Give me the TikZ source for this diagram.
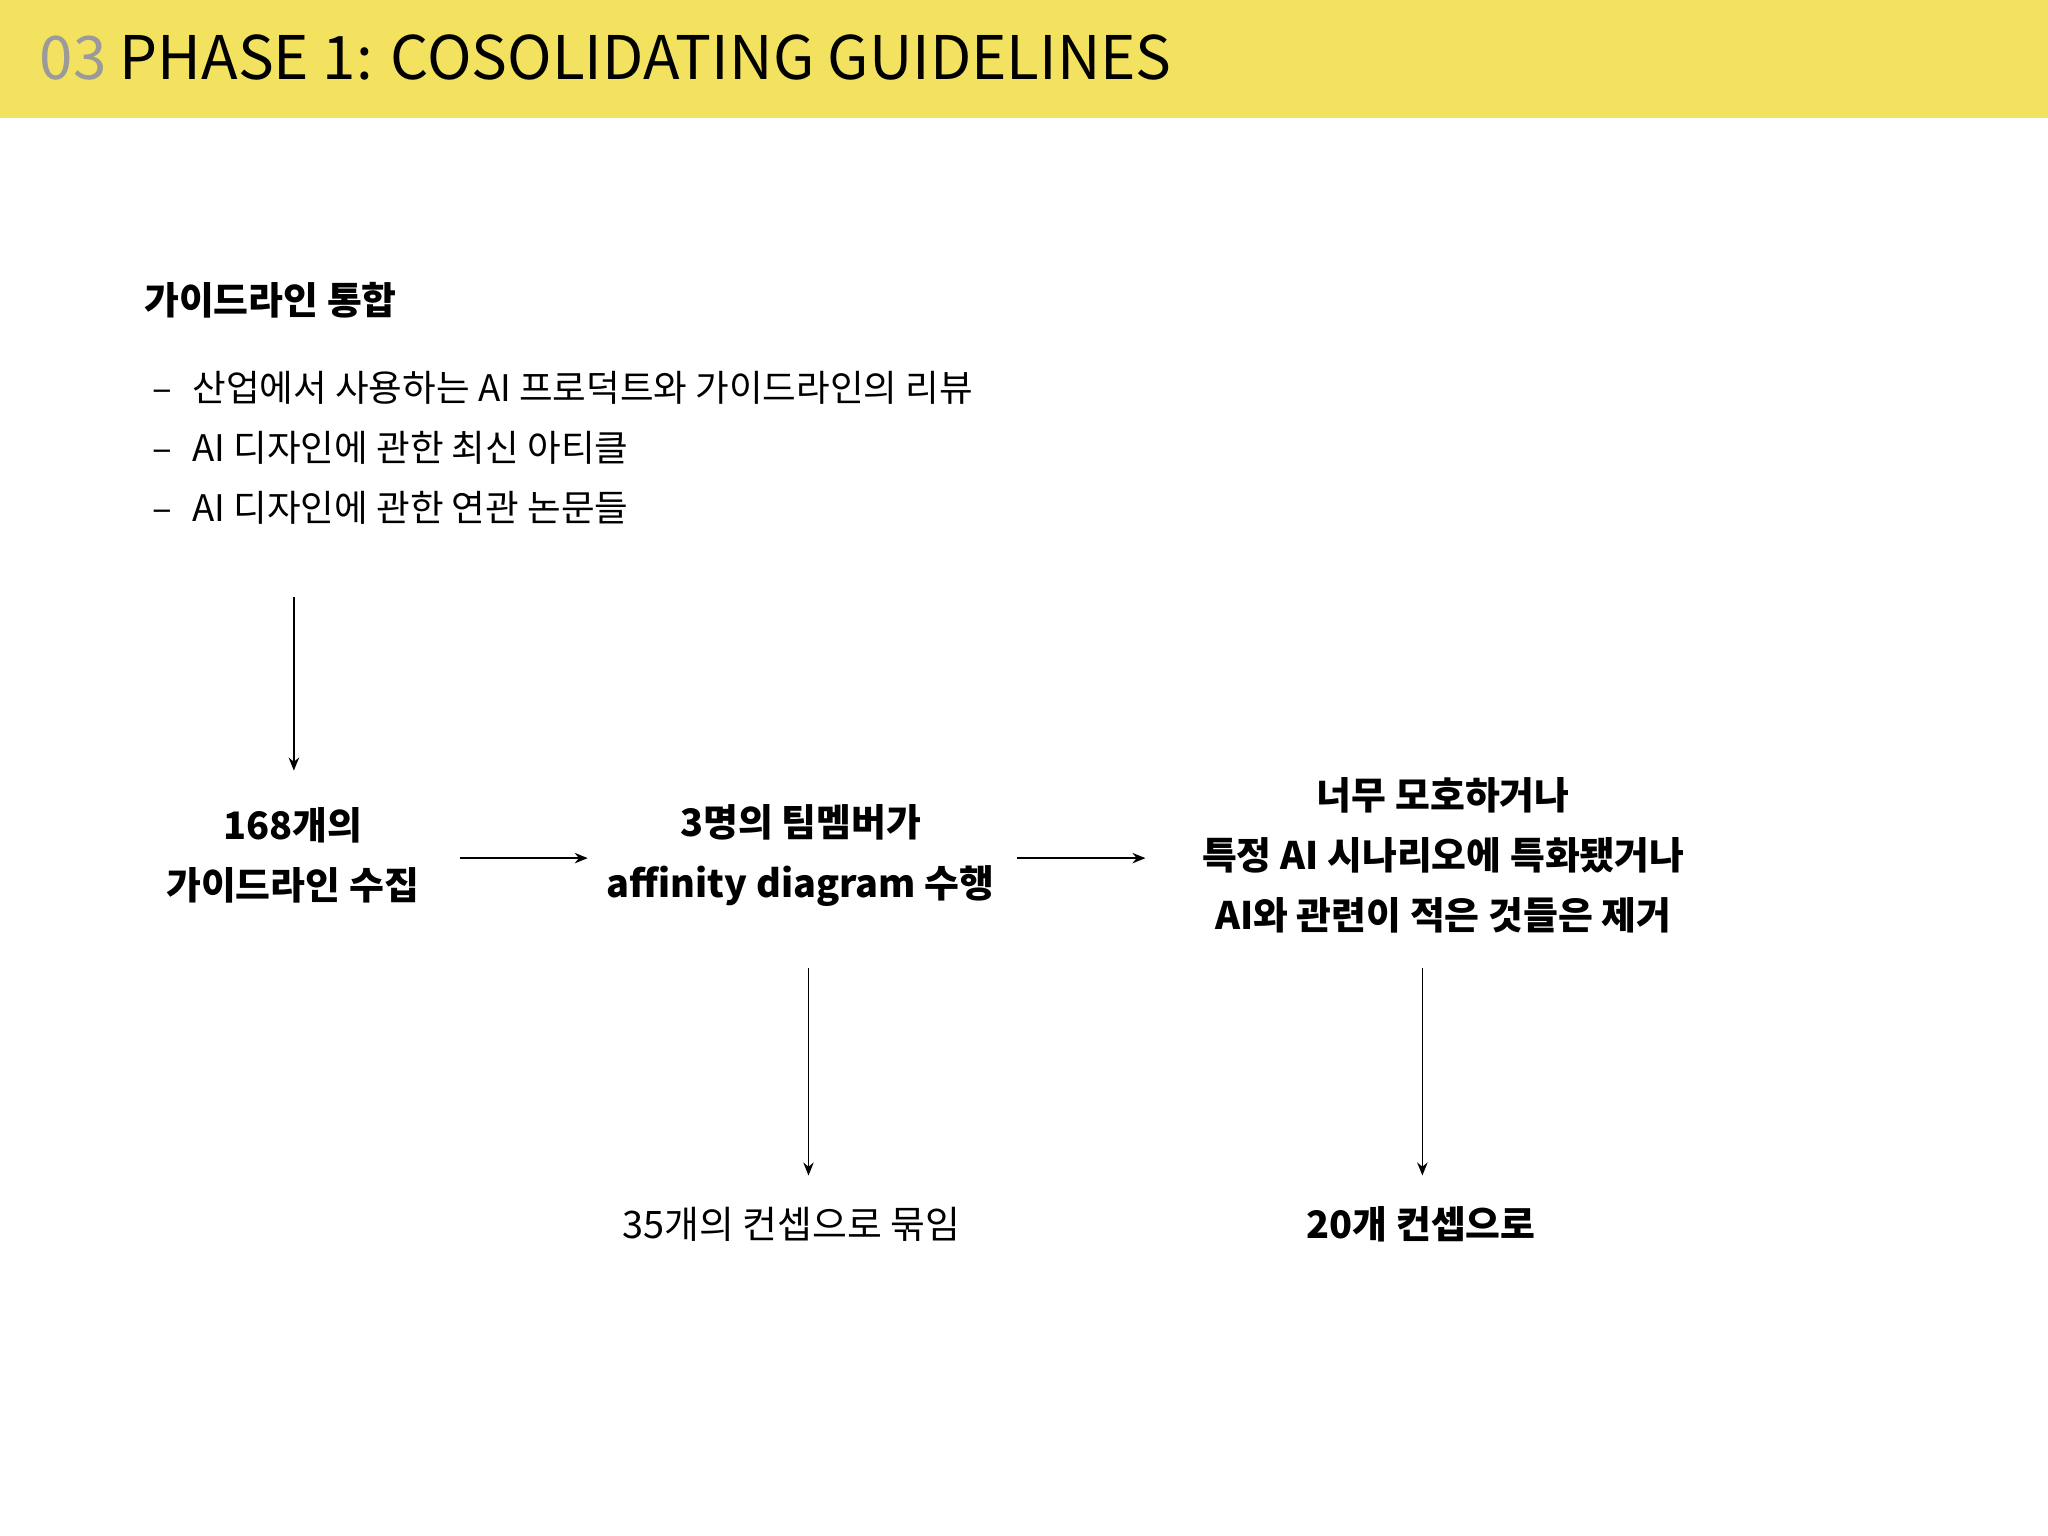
\documentclass[tikz,border=0pt]{standalone}
\usepackage{fontspec}
\setmainfont{Noto Sans CJK KR}
\usetikzlibrary{arrows.meta}
\definecolor{band}{HTML}{F3E160}
\definecolor{numgray}{HTML}{9A9A9A}
\begin{document}
\begin{tikzpicture}[x=0.5pt,y=-0.5pt,
  txt/.style={font=\fontsize{14.5pt}{23pt}\selectfont, align=center, inner sep=0pt},
  btxt/.style={txt, font=\fontsize{14.5pt}{23pt}\selectfont\bfseries},
  bul/.style={font=\fontsize{14pt}{23pt}\selectfont, anchor=west, inner sep=0pt},
  arr/.style={-{Stealth[length=5pt,width=4pt]}, line width=0.6pt}]
\useasboundingbox (0,0) rectangle (1568,1176);
\fill[band] (0,0) rectangle (1568,90);
\node[anchor=west, inner sep=0pt, font=\fontsize{23pt}{28pt}\selectfont] (title) at (30,44) {\textcolor{numgray}{03} PHASE 1: COSOLIDATING GUIDELINES};
\node[btxt, anchor=west] (head) at (110,230) {가이드라인 통합};
\node[bul] (b1) at (116,297) {–\hspace{8pt}산업에서 사용하는 AI 프로덕트와 가이드라인의 리뷰};
\node[bul] (b2) at (116,343) {–\hspace{8pt}AI 디자인에 관한 최신 아티클};
\node[bul] (b3) at (116,389) {–\hspace{8pt}AI 디자인에 관한 연관 논문들};
\node[btxt] (n1) at (224,655) {168개의\\가이드라인 수집};
\node[btxt] (n2) at (613,655) {3명의 팀멤버가\\affinity diagram 수행};
\node[btxt] (n3) at (1105,655) {너무 모호하거나\\특정 AI 시나리오에 특화됐거나\\AI와 관련이 적은 것들은 제거};
\node[txt] (n4) at (606,937) {35개의 컨셉으로 묶임};
\node[btxt] (n5) at (1088,937) {20개 컨셉으로};
\coordinate (a0) at (225,457); \coordinate (a1) at (225,590);
\coordinate (h1) at (352,657); \coordinate (h2) at (450,657);
\coordinate (h3) at (779,657); \coordinate (h4) at (877,657);
\coordinate (v1) at (619,741); \coordinate (v2) at (619,900);
\coordinate (v3) at (1089,741); \coordinate (v4) at (1089,900);
\draw[arr] (a0) -- (a1);
\draw[arr] (h1) -- (h2);
\draw[arr] (h3) -- (h4);
\draw[arr] (v1) -- (v2);
\draw[arr] (v3) -- (v4);
\end{tikzpicture}
\end{document}
